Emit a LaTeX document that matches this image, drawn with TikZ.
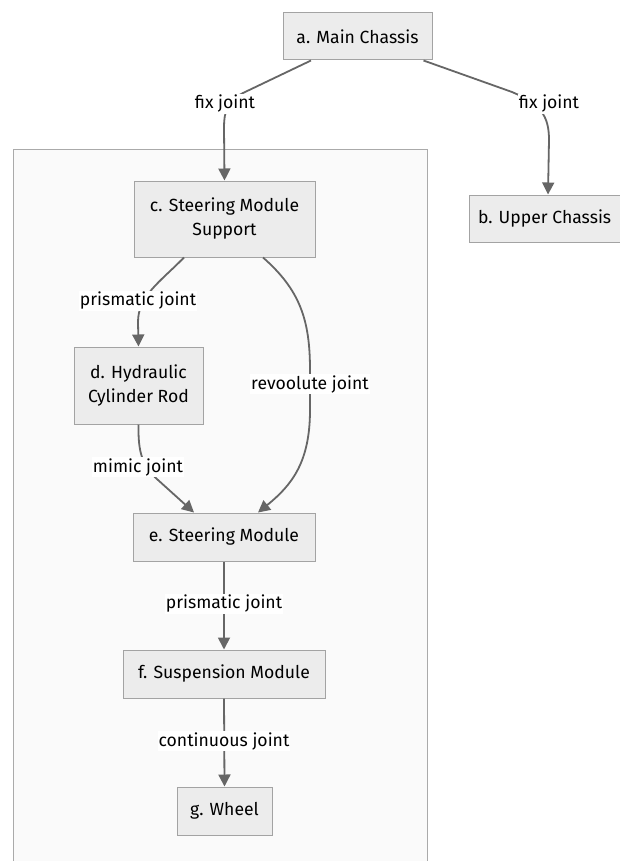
\documentclass[tikz,border=0pt]{standalone}
\usepackage{fontspec}
\setmainfont{Fira Sans}
\usetikzlibrary{arrows.meta}
\definecolor{boxfill}{HTML}{ECECEC}
\definecolor{boxdraw}{HTML}{A3A3A3}
\definecolor{edgecol}{HTML}{666666}
\definecolor{clusterfill}{HTML}{FAFAFA}
\definecolor{clusterdraw}{HTML}{AAAAAA}
\begin{document}
\begin{tikzpicture}[x=1pt,y=1pt,
  box/.style={draw=boxdraw,fill=boxfill,line width=1pt,inner sep=0pt,align=center,
    font=\fontsize{17.6}{24}\selectfont},
  lbl/.style={fill=white,inner sep=1pt,font=\fontsize{17.6}{24}\selectfont},
  edge/.style={draw=edgecol,line width=1.8pt,-{Triangle[length=12pt,width=12pt]}}]
\useasboundingbox (0,0) rectangle (620,-861);
\fill[white] (0,0) rectangle (620,-861);
\draw[clusterdraw,fill=clusterfill,line width=1pt] (13,-150) rectangle (427,-880);
\node[box,minimum width=149pt,minimum height=47pt] (a) at (357.5,-36.5) {a. Main Chassis};
\node[box,minimum width=158pt,minimum height=47pt,text width=140pt,align=flush left] (b) at (548,-218.5) {b. Upper Chassis};
\node[box,minimum width=181pt,minimum height=76pt] (c) at (224.5,-219) {c. Steering Module\\Support};
\node[box,minimum width=129pt,minimum height=77pt] (d) at (138.5,-385.5) {d. Hydraulic\\Cylinder Rod};
\node[box,minimum width=182pt,minimum height=48pt] (e) at (224,-537) {e. Steering Module};
\node[box,minimum width=202pt,minimum height=48pt] (f) at (224,-674) {f. Suspension Module};
\node[box,minimum width=95pt,minimum height=48pt] (g) at (224.5,-811) {g. Wheel};
% edges
\draw[edge] ([xshift=-46.5pt]a.south) -- (243,-93) .. controls (228,-101) and (224,-110) .. (224,-128) -- (c.north);
\draw[edge] ([xshift=66pt]a.south) -- (512,-92) .. controls (540,-104) and (549,-115) .. (549,-140) -- (b.north);
\draw[edge] ([xshift=-40.5pt]c.south) .. controls (160,-282) and (138,-296) .. (138,-322) -- (d.north);
\draw[edge] ([xshift=38.5pt]c.south) .. controls (300,-290) and (310,-320) .. (310,-370) -- (310,-410) .. controls (310,-462) and (292,-485) .. ([xshift=34pt]e.north);
\draw[edge] (d.south) .. controls (138,-452) and (142,-466) .. (158,-480) -- ([xshift=-30pt]e.north);
\draw[edge] (e.south) -- (f.north);
\draw[edge] (f.south) -- (g.north);
% labels
\node[lbl] (l1) at (225,-104) {fix joint};
\node[lbl] (l2) at (549,-104) {fix joint};
\node[lbl] (l3) at (138,-301) {prismatic joint};
\node[lbl] (l4) at (310,-384) {revoolute joint};
\node[lbl] (l5) at (138,-467) {mimic joint};
\node[lbl] (l6) at (224,-604) {prismatic joint};
\node[lbl] (l7) at (224,-741) {continuous joint};
\end{tikzpicture}
\end{document}
